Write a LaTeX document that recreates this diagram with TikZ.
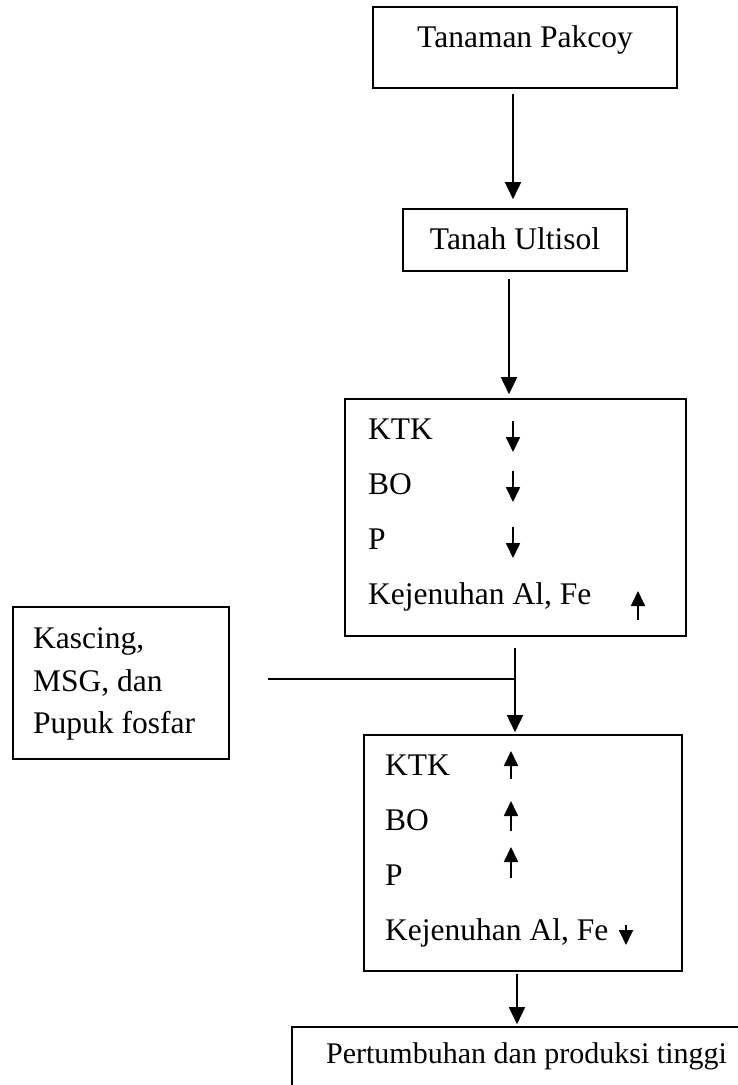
\documentclass[tikz,border=0pt]{standalone}
\usepackage{fontspec}
\setmainfont{Liberation Serif}
\usetikzlibrary{arrows.meta}
\begin{document}
\begin{tikzpicture}[x=1pt,y=-1pt,
  rect/.style={draw, line width=1.6pt, inner sep=0pt},
  tbox/.style={draw, line width=1.6pt, inner sep=0pt, anchor=base, font=\fontsize{31.5}{38}\selectfont},
  lbl/.style={inner sep=0pt, anchor=base west, font=\fontsize{31.5}{38}\selectfont},
  conn/.style={line width=1.6pt},
  arr/.style={line width=1.6pt, -{Triangle[length=17pt,width=16pt]}},
  sarr/.style={line width=1.8pt, -{Triangle[length=15pt,width=14pt]}}]
\useasboundingbox (0,0) rectangle (738,1085);
\clip (0,0) rectangle (738,1085);

% boxes
\node[tbox, minimum width=304pt, text height=40pt, text depth=41pt] (b1) at (525,47) {Tanaman Pakcoy};
\node[tbox, minimum width=224pt, text height=40pt, text depth=22pt] (b2) at (515,249) {Tanah Ultisol};
\node[rect, minimum width=341pt, minimum height=237pt] (b3) at (515.5,517.5) {};
\node[rect, minimum width=216pt, minimum height=152pt] (kb) at (121,683) {};
\node[rect, minimum width=318pt, minimum height=236pt] (b4) at (523,853) {};
\node[tbox, minimum width=469pt, text height=36pt, text depth=40pt, font=\fontsize{30}{36}\selectfont] (b5) at (526.5,1063) {Pertumbuhan dan produksi tinggi};

% box 3 rows
\node[lbl] (r31) at (368,439) {KTK};
\node[lbl] (r32) at (368,494) {BO};
\node[lbl] (r33) at (368,549) {P};
\node[lbl] (r34) at (368,604) {Kejenuhan Al, Fe};
\draw[sarr] (513,421) -- (513,452);
\draw[sarr] (513,471) -- (513,502);
\draw[sarr] (513,527) -- (513,558);
\draw[sarr] (638,620) -- (638,591);

% kascing box text
\node[lbl] (k1) at (33,648) {Kascing,};
\node[lbl] (k2) at (33,691) {MSG, dan};
\node[lbl] (k3) at (33,733) {Pupuk fosfar};

% box 4 rows
\node[lbl] (r41) at (385,775) {KTK};
\node[lbl] (r42) at (385,830) {BO};
\node[lbl] (r43) at (385,885) {P};
\node[lbl] (r44) at (385,940) {Kejenuhan Al, Fe};
\draw[sarr] (511,779) -- (511,751);
\draw[sarr] (511,831) -- (511,801);
\draw[sarr] (511,878) -- (511,847);
\draw[sarr] (626,925) -- (626,945);

% connectors
\coordinate (c1) at (513,0);
\coordinate (c2) at (509,0);
\coordinate (j) at (515,679);
\coordinate (c5) at (517,0);
\draw[arr, shorten <=5pt, shorten >=9pt] (b1.south -| c1) -- (b2.north -| c1);
\draw[arr, shorten <=7pt, shorten >=4pt] (b2.south -| c2) -- (b3.north -| c2);
\draw[conn, shorten <=38pt] (kb.east |- j) -- (j);
\draw[arr, shorten <=11pt, shorten >=2pt] (b3.south -| j) -- (b4.north -| j);
\draw[arr, shorten <=2pt, shorten >=2pt] (b4.south -| c5) -- (b5.north -| c5);
\end{tikzpicture}
\end{document}
